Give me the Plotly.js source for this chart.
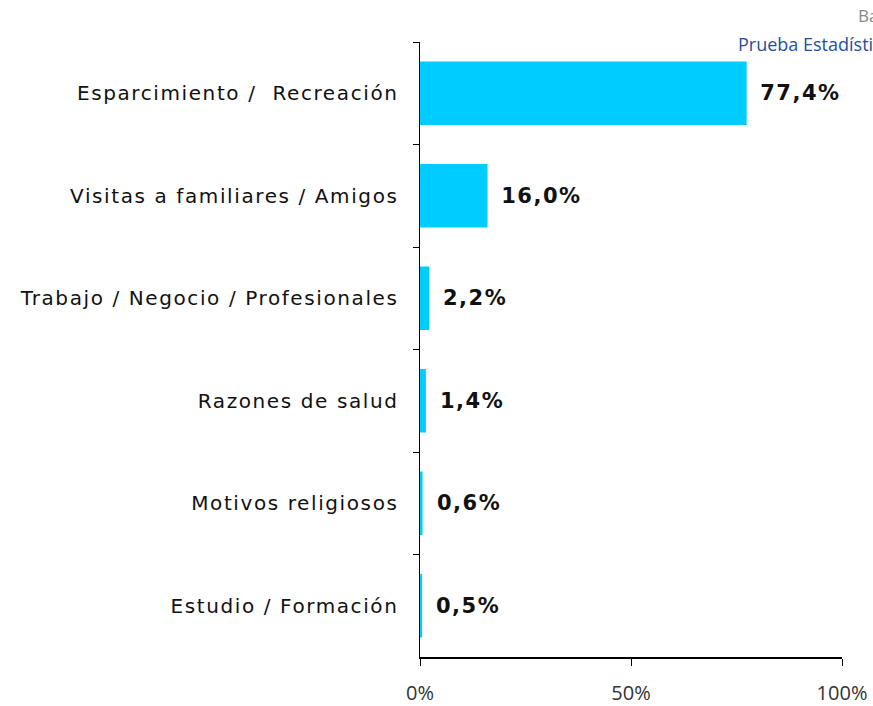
<!DOCTYPE html>
<html>
<head>
<meta charset="utf-8">
<script src="https://cdn.plot.ly/plotly-3.0.1.min.js"></script>
<style>
body{margin:0;padding:0;background:#fff;}
#chart{width:873px;height:706px;}
.ytick text{letter-spacing:1.6px;}
</style>
</head>
<body>
<div id="chart"></div>
<script>
const categories = [
  "Esparcimiento /\u00A0 Recreación",
  "Visitas a familiares / Amigos",
  "Trabajo / Negocio / Profesionales",
  "Razones de salud",
  "Motivos religiosos",
  "Estudio / Formación"
];
const values = [77.4, 16.0, 2.2, 1.4, 0.6, 0.5];
const valueLabels = ["77,4%", "16,0%", "2,2%", "1,4%", "0,6%", "0,5%"];
const xTickVals = [0, 50, 100];
const xTickText = ["0%", "50%", "100%"];

const trace = {
  type: "bar",
  orientation: "h",
  x: values,
  y: categories,
  marker: {color: "#00CCFF"},
  width: 0.62,
  hoverinfo: "none"
};

const annotations = values.map((v, i) => ({
  x: v, y: categories[i], xref: "x", yref: "y",
  text: "<b>" + valueLabels[i] + "</b>", showarrow: false,
  xanchor: "left", yanchor: "middle", xshift: 15,
  font: {family: "DejaVu Sans", size: 21, color: "#111"},
}));
annotations.push({
  xref: "paper", yref: "paper", x: 1.0, y: 1.0, xanchor: "left", yanchor: "middle",
  xshift: 14, yshift: 27, text: "Base", showarrow: false,
  font: {family: "Open Sans", size: 17, color: "#888"}
});
annotations.push({
  xref: "paper", yref: "paper", x: 1.0, y: 1.0, xanchor: "left", yanchor: "middle",
  xshift: -106, yshift: -2, text: "Prueba Estadística", showarrow: false,
  font: {family: "Open Sans", size: 18, color: "#1F4EA0"}
});

const layout = {
  width: 873, height: 706,
  margin: {l: 420, r: 31, t: 42, b: 49},
  paper_bgcolor: "#fff", plot_bgcolor: "#fff",
  showlegend: false,
  xaxis: {
    range: [0, 100], tickvals: xTickVals, ticktext: xTickText,
    showgrid: false, zeroline: false, showline: true, linecolor: "#000", linewidth: 1.5,
    ticks: "outside", ticklen: 7, tickcolor: "#000", ticklabelstandoff: 10,
    tickfont: {family: "Open Sans", size: 20, color: "#333"},
    fixedrange: true
  },
  yaxis: {
    type: "category", autorange: "reversed",
    showgrid: false, zeroline: false, showline: true, linecolor: "#000", linewidth: 1.5,
    ticks: "outside", ticklen: 6, tickcolor: "#000", tickson: "boundaries",
    ticklabelstandoff: 16,
    tickfont: {family: "DejaVu Sans", size: 20, color: "#111"},
    fixedrange: true
  },
  annotations: annotations
};

Plotly.newPlot("chart", [trace], layout, {displayModeBar: false, staticPlot: true}).then(() => {
  document.querySelectorAll(".annotation-text").forEach((t, i) => {
    if (i < values.length) t.style.letterSpacing = "1.5px";
  });
});
</script>
</body>
</html>
